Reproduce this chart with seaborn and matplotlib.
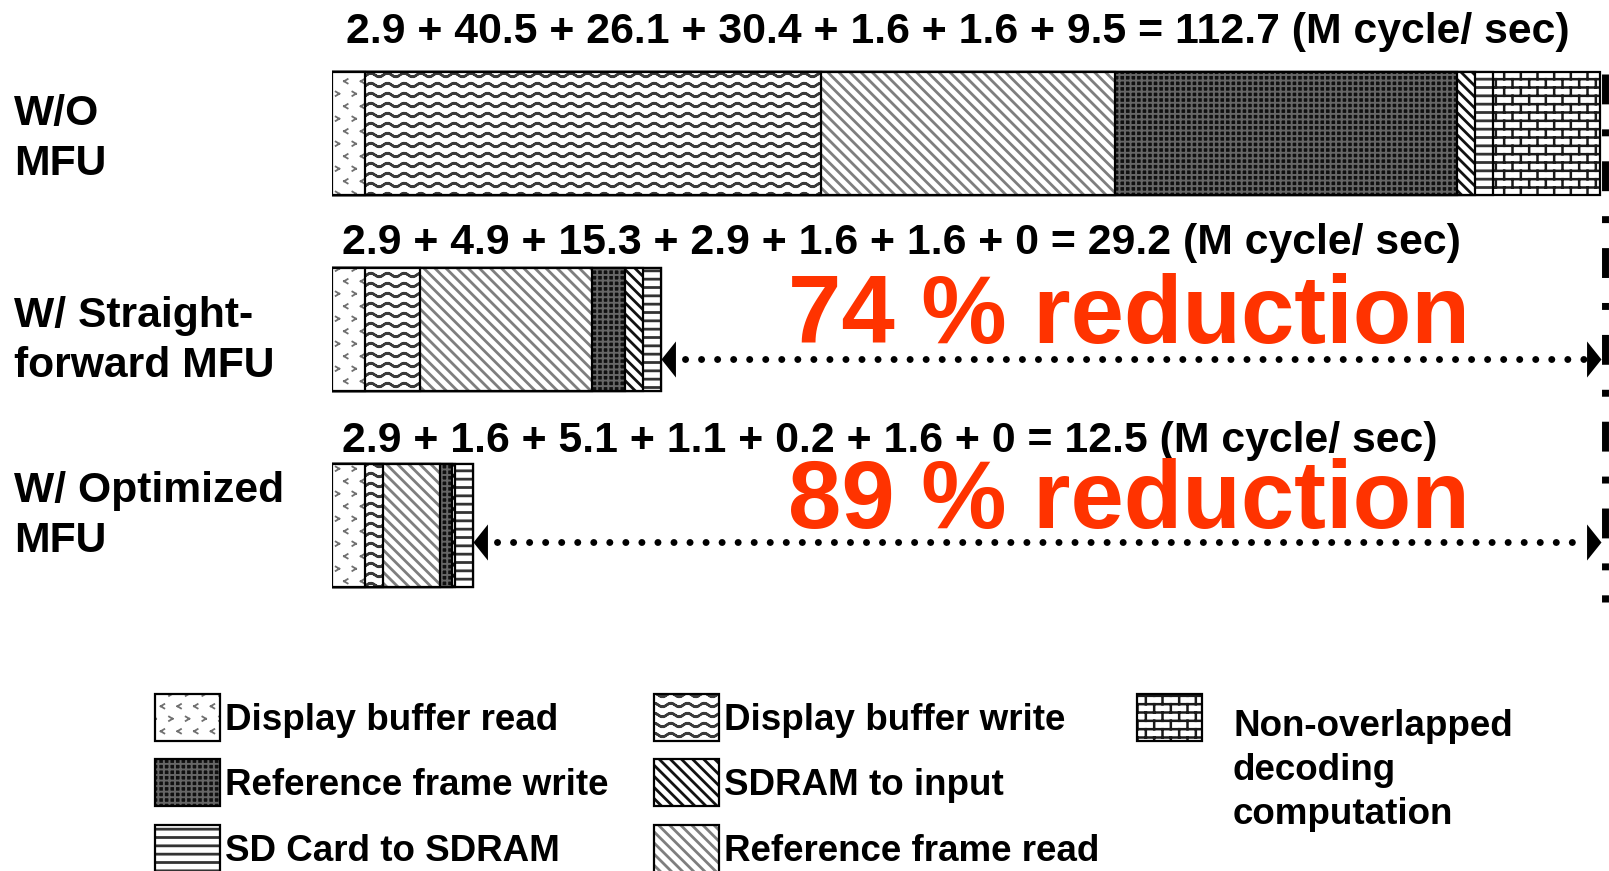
import numpy as np
import pandas as pd
import matplotlib
matplotlib.use("Agg")
import matplotlib.pyplot as plt
import matplotlib.hatch as mhatch
from matplotlib.path import Path
from matplotlib.patches import Rectangle
import seaborn as sns

# ---------------- data ----------------
configs = ["W/O\nMFU", "W/ Straight-\nforward MFU", "W/ Optimized\nMFU"]
series = ["Display buffer read", "Display buffer write", "Reference frame read",
          "Reference frame write", "SDRAM to input", "SD Card to SDRAM",
          "Non-overlapped\ndecoding\ncomputation"]
display_buffer_read = [2.9, 2.9, 2.9]
display_buffer_write = [40.5, 4.9, 1.6]
reference_frame_read = [26.1, 15.3, 5.1]
reference_frame_write = [30.4, 2.9, 1.1]
sdram_to_input = [1.6, 1.6, 0.2]
sd_card_to_sdram = [1.6, 1.6, 1.6]
non_overlapped = [9.5, 0, 0]
totals = [112.7, 29.2, 12.5]
unit_text = "(M cycle/ sec)"

# ---------------- custom hatches (drawn as 2-point segments) ----------------
class _SegHatch(mhatch.HatchPatternBase):
    key = "?"

    def __init__(self, hatch, density):
        n = hatch.count(self.key) if hatch else 0
        segs = []
        if n:
            for poly in self.build(n):
                poly = np.asarray(poly, float)
                for a, b in zip(poly[:-1], poly[1:]):
                    segs.append((a, b))
        self.segs = segs
        self.num_vertices = 2 * len(segs)

    def build(self, n):
        return []

    def set_vertices_and_codes(self, vertices, codes):
        for i, (a, b) in enumerate(self.segs):
            vertices[2 * i] = a
            vertices[2 * i + 1] = b
            codes[2 * i] = Path.MOVETO
            codes[2 * i + 1] = Path.LINETO


class WavyHatch(_SegHatch):
    key = "w"

    def build(self, n):
        rows, periods = 10, 6
        t = np.linspace(0, 1, periods * 8 + 1)
        return [np.column_stack([t, (i + 0.5) / rows + 0.017 * np.sin(2 * np.pi * periods * t)])
                for i in range(rows)]


class ChevronHatch(_SegHatch):
    key = "c"

    def build(self, n):
        polys = []
        cols, rows, s = 6, 8, 0.018
        for r in range(rows):
            cy = (r + 0.5) / rows
            right = (r % 2 == 0)
            for c in range(cols):
                cx = (c + (0.25 if right else 0.75)) / cols
                d = s if right else -s
                polys.append([[cx - d, cy + s * 1.2], [cx + d, cy], [cx - d, cy - s * 1.2]])
        return polys


class BrickHatch(_SegHatch):
    key = "b"

    def build(self, n):
        rows, cols = 12, 6
        polys = []
        for r in range(rows):
            y0 = (r + 0.5) / rows
            y1 = y0 + 1.0 / rows
            polys.append([[0.0, y0], [1.0, y0]])
            off = 0.25 if r % 2 == 0 else 0.75
            for c in range(cols):
                x = (c + off) / cols
                if y1 <= 1:
                    polys.append([[x, y0], [x, y1]])
                else:
                    polys.append([[x, y0], [x, 1.0]])
                    polys.append([[x, 0.0], [x, y1 - 1]])
        return polys


mhatch._hatch_types.extend([WavyHatch, ChevronHatch, BrickHatch])
mhatch._validate_hatch_pattern = lambda hatch: None

styles = [
    dict(face="white", hatch="c", hc="#707070", hlw=1.3),
    dict(face="white", hatch="w", hc="#3a3a3a", hlw=1.8),
    dict(face="white", hatch="\\\\\\", hc="#7e7e7e", hlw=2.0),
    dict(face="#101010", hatch="+++", hc="#666666", hlw=1.4),
    dict(face="white", hatch="\\\\\\", hc="#111111", hlw=2.0),
    dict(face="white", hatch="--", hc="#333333", hlw=2.0),
    dict(face="white", hatch="b", hc="#1a1a1a", hlw=1.8),
]

# ---------------- figure ----------------
plt.rcParams["font.family"] = ["Liberation Sans", "DejaVu Sans"]
plt.rcParams["font.weight"] = "bold"
plt.rcParams["hatch.linewidth"] = 1.9

W, H = 1609, 871
fig = plt.figure(figsize=(W / 100, H / 100), dpi=100)
AX_LEFT = 332
ax = fig.add_axes([AX_LEFT / W, 0, 1 - AX_LEFT / W, 1])
PX_PER_UNIT = 11.26
ROW0, ROW_PITCH = 133.5, 196.0
BAR_H = 123 / ROW_PITCH


def set_hlw(patch, lw):
    if hasattr(patch, "set_hatch_linewidth"):
        patch.set_hatch_linewidth(lw)


values = np.array([display_buffer_read, display_buffer_write, reference_frame_read,
                   reference_frame_write, sdram_to_input, sd_card_to_sdram,
                   non_overlapped]).T
cum = np.cumsum(values, axis=1)

for k in reversed(range(len(series))):
    st = styles[k]
    data = pd.DataFrame({"config": configs, "value": cum[:, k]})
    sns.barplot(data=data, x="value", y="config", order=configs, orient="h",
                color=st["face"], saturation=1, width=BAR_H, errorbar=None,
                hatch=st["hatch"], edgecolor=st["hc"], linewidth=0, ax=ax)
    for p in ax.containers[-1]:
        set_hlw(p, st["hlw"])
    sns.barplot(data=data, x="value", y="config", order=configs, orient="h",
                color="black", fill=False, width=BAR_H, errorbar=None,
                facecolor="none", edgecolor="black", linewidth=1.6, ax=ax)

ax.set_xlim(0, (W - AX_LEFT) / PX_PER_UNIT)
ax.set_ylim((H - ROW0) / ROW_PITCH, -ROW0 / ROW_PITCH)
ax.set_axis_off()


def yd(py):
    return (py - ROW0) / ROW_PITCH


def fx(px):
    return px / W


def fy(py):
    return 1 - py / H


# ---------------- header texts ----------------
header_pos = [(346, 42.7), (342, 254), (342, 451.5)]
for i in range(len(configs)):
    parts = " + ".join(f"{v:g}" for v in values[i])
    txt = f"{parts} = {totals[i]:g} {unit_text}"
    x, y = header_pos[i]
    fig.text(fx(x), fy(y), txt, fontsize=30.8, fontweight="bold", va="baseline", ha="left")

# ---------------- row labels ----------------
label_base = [125, 326.7, 501.7]
for i, lab in enumerate(configs):
    for j, line in enumerate(lab.split("\n")):
        fig.text(fx(14), fy(label_base[i] + 50 * j), line, fontsize=30.7,
                 fontweight="bold", va="baseline", ha="left")

# ---------------- reduction arrows ----------------
arrow_y = [359.3, 542.0]
red_base = [342.7, 528.4]
left_tri = Path([(0, 0), (0.8, 1), (0.8, -1), (0, 0)],
                [Path.MOVETO, Path.LINETO, Path.LINETO, Path.CLOSEPOLY])
right_tri = Path([(0, 0), (-0.8, 1), (-0.8, -1), (0, 0)],
                 [Path.MOVETO, Path.LINETO, Path.LINETO, Path.CLOSEPOLY])
for n, i in enumerate([1, 2]):
    end = cum[i, -1]
    y = yd(arrow_y[n])
    ax.plot([end + 24 / PX_PER_UNIT, totals[0] - 14 / PX_PER_UNIT], [y, y], color="black",
            lw=5, linestyle=(0, (0.01, 2.3)), dash_capstyle="round")
    ax.plot([end], [y], marker=left_tri, ms=26, color="black", mew=0)
    ax.plot([totals[0]], [y], marker=right_tri, ms=26, color="black", mew=0)
    pct = round((1 - totals[i] / totals[0]) * 100)
    fig.text(fx(788), fy(red_base[n]), f"{pct} % reduction", fontsize=69,
             fontweight="bold", color="#FF3300", va="baseline", ha="left")

xv = totals[0] + 4 / PX_PER_UNIT
ax.plot([xv, xv], [yd(74), yd(602)], color="black", lw=5,
        linestyle=(0, (4.3, 3.6, 1, 3.6)), dash_capstyle="butt")

# ---------------- legend ----------------
legend_layout = [(0, 0, 0), (3, 0, 1), (5, 0, 2), (1, 1, 0), (4, 1, 1), (2, 1, 2), (6, 2, 0)]
col_x = [155, 654, 1137]
row_y = [694, 759, 825]
PW, PH = 65, 47
for k, c, r in legend_layout:
    st = styles[k]
    x0, y0 = col_x[c], row_y[r]
    rect = Rectangle((fx(x0), fy(y0 + PH)), PW / W, PH / H, transform=fig.transFigure,
                     facecolor=st["face"], hatch=st["hatch"], edgecolor=st["hc"], linewidth=0)
    set_hlw(rect, st["hlw"])
    fig.add_artist(rect)
    fig.add_artist(Rectangle((fx(x0), fy(y0 + PH)), PW / W, PH / H, transform=fig.transFigure,
                             facecolor="none", edgecolor="black", linewidth=1.6))
    lines = series[k].split("\n")
    if len(lines) == 1:
        fig.text(fx(x0 + PW + 5), fy(y0 + 36), lines[0], fontsize=26.5,
                 fontweight="bold", va="baseline", ha="left")
    else:
        for j, line in enumerate(lines):
            fig.text(fx(x0 + PW + 31), fy(y0 + 42 + 44 * j), line, fontsize=26.5,
                     fontweight="bold", va="baseline", ha="left")

fig.savefig("out.png", dpi=100)
